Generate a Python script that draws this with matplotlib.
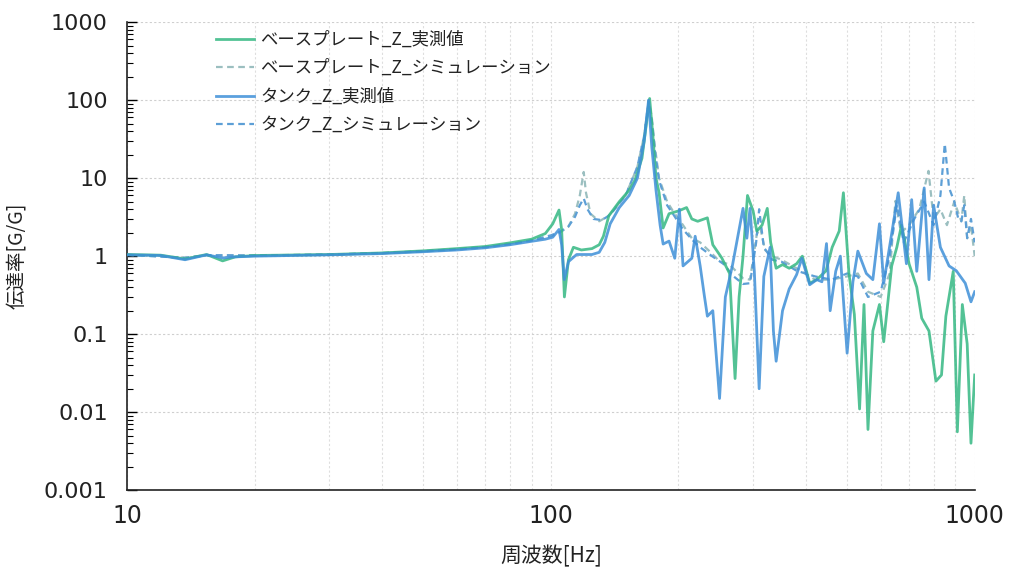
import matplotlib
matplotlib.use("Agg")
import matplotlib.pyplot as plt
from matplotlib.ticker import NullFormatter, LogLocator

plt.rcParams['font.family'] = ['Noto Sans CJK JP', 'DejaVu Sans']

# ---------------- data ----------------
bp_meas_f = [10, 12, 13.7, 15.4, 16.8, 18, 20, 30, 40, 50, 60, 70, 80, 90, 97, 101, 104.5, 106, 107.6,
             110, 113, 118, 125, 130, 133, 137, 145, 153, 158, 164, 168, 171, 174, 177, 180, 184, 190,
             200, 209, 215, 222, 234, 241, 253, 264, 272, 278, 284, 291, 300, 306, 315, 324, 330, 340,
             352, 365, 380, 392, 408, 424, 446, 461, 479, 490, 505, 520, 535, 548, 560, 575, 596, 610,
             637, 655, 672, 700, 730, 750, 780, 810, 835, 855, 890, 910, 935, 960, 980, 1000]
bp_meas_v = [1.05, 1.03, 0.92, 1.05, 0.87, 0.98, 1.02, 1.05, 1.1, 1.17, 1.25, 1.33, 1.48, 1.65, 1.95, 2.6,
             3.9, 2.2, 0.3, 0.9, 1.3, 1.2, 1.25, 1.4, 1.8, 3.3, 5.0, 7.0, 9.5, 18, 50, 105, 35, 10, 6.5,
             2.3, 3.5, 3.8, 4.2, 3.0, 2.8, 3.1, 1.4, 0.95, 0.6, 0.027, 0.3, 1.0, 6.0, 3.8, 2.1, 2.5, 4.1,
             1.5, 0.7, 0.78, 0.7, 0.8, 1.0, 0.45, 0.5, 0.65, 1.3, 2.1, 6.5, 0.6, 0.18, 0.011, 0.24, 0.006,
             0.11, 0.24, 0.08, 0.75, 1.3, 2.5, 0.8, 0.4, 0.16, 0.11, 0.025, 0.03, 0.17, 0.64, 0.0056,
             0.24, 0.075, 0.004, 0.03]

bp_sim_f = [10, 13.7, 15.4, 20, 30, 40, 50, 60, 70, 80, 90, 100, 105, 110, 114, 117, 119.5, 121, 124,
            130, 137, 142, 150, 160, 166, 170, 173, 176, 180, 188, 194, 205, 215, 225, 237, 250, 264,
            284, 295, 306, 312, 320, 333, 350, 380, 420, 460, 500, 530, 560, 600, 630, 650, 670, 700,
            740, 778, 800, 830, 860, 895, 930, 945, 960, 980, 1000]
bp_sim_v = [1.04, 0.96, 1.03, 1.02, 1.05, 1.09, 1.15, 1.22, 1.3, 1.42, 1.58, 1.8, 2.0, 2.4, 3.5, 6, 12,
            6.5, 3.5, 2.8, 3.3, 4.2, 6, 14, 35, 100, 60, 25, 10, 5.0, 3.8, 2.5, 1.7, 1.5, 1.15, 0.86,
            0.78, 0.52, 0.5, 1.9, 2.3, 1.2, 1.0, 0.9, 0.7, 0.5, 0.5, 0.55, 0.6, 0.35, 0.3, 0.6, 5.1,
            2.0, 2.5, 4, 12.4, 3, 4, 2.5, 5, 2.8, 6, 1.7, 2.5, 1.0]

tk_meas_f = [10, 12, 13.7, 15.4, 16.8, 18, 20, 30, 40, 50, 60, 70, 80, 90, 97, 101, 104.5, 106, 107.5,
             110, 115, 125, 130, 134, 138, 145, 153, 160, 166, 170, 173, 177, 181, 184, 190, 196, 201,
             205, 215, 219, 225, 230, 234, 241, 250, 258, 268, 284, 290, 295, 302, 310, 318, 329, 335,
             340, 352, 365, 380, 391, 408, 424, 436, 447, 456, 470, 482, 500, 516, 530, 555, 575, 596,
             610, 660, 690, 710, 730, 760, 780, 800, 830, 870, 905, 950, 980, 1000]
tk_meas_v = [1.04, 1.02, 0.9, 1.04, 0.95, 0.98, 1.0, 1.04, 1.08, 1.14, 1.2, 1.28, 1.4, 1.55, 1.65, 1.75,
             2.2, 1.4, 0.5, 0.85, 1.05, 1.05, 1.12, 1.5, 2.6, 4.2, 6.0, 10, 30, 100, 25, 7, 2.5, 1.43,
             1.56, 0.94, 4.0, 0.75, 0.94, 1.8, 0.75, 0.32, 0.17, 0.2, 0.015, 0.3, 0.75, 4.1, 1.7, 4.1,
             0.64, 0.02, 0.55, 1.3, 0.11, 0.045, 0.2, 0.38, 0.58, 0.94, 0.43, 0.5, 0.47, 1.45, 0.2,
             0.64, 1.0, 0.057, 0.47, 1.16, 0.6, 0.5, 2.6, 0.45, 6.5, 0.8, 5.3, 0.64, 7.5, 0.5, 4.5, 1.3,
             0.75, 0.65, 0.45, 0.26, 0.35]

tk_sim_f = [10, 13.7, 15.4, 20, 30, 40, 50, 60, 70, 80, 90, 100, 105, 110, 114, 117, 119.5, 122, 126,
            132, 138, 143, 150, 160, 166, 170, 173, 176, 180, 188, 194, 205, 216, 225, 240, 255, 270,
            284, 295, 305, 310, 318, 333, 350, 380, 420, 460, 500, 530, 560, 600, 630, 655, 680, 720,
            760, 800, 830, 850, 870, 895, 915, 930, 945, 960, 980, 1000]
tk_sim_v = [1.04, 0.95, 1.03, 1.02, 1.05, 1.1, 1.16, 1.23, 1.31, 1.43, 1.6, 1.85, 2.05, 2.4, 3.2, 4.5,
            5.5, 4.0, 3.0, 2.9, 3.4, 4.3, 6, 14, 35, 95, 55, 22, 9.4, 4.5, 3.5, 2.2, 1.6, 1.3, 1.0, 0.8,
            0.55, 0.44, 0.45, 1.5, 4.0, 1.3, 0.9, 0.85, 0.65, 0.55, 0.5, 0.6, 0.55, 0.3, 0.35, 1.0, 4.5,
            1.5, 3, 5, 2.5, 6, 27.6, 7.5, 5, 3, 2.8, 4.5, 1.7, 3, 1.5]

labels = ["ベースプレート_Z_実測値", "ベースプレート_Z_シミュレーション",
          "タンク_Z_実測値", "タンク_Z_シミュレーション"]

y_ticks = [0.001, 0.01, 0.1, 1, 10, 100, 1000]
y_tick_labels = ["0.001", "0.01", "0.1", "1", "10", "100", "1000"]
x_ticks = [10, 100, 1000]
x_tick_labels = ["10", "100", "1000"]

# ---------------- plot ----------------
fig = plt.figure(figsize=(10.09, 5.68), dpi=100)
ax = fig.add_axes([0.126, 0.137, 0.840, 0.824])

c_bp = "#35b883"
c_tk = "#3e8fd8"
c_bps = "#9bbfc0"
c_tks = "#5d9fd6"

l1, = ax.plot(bp_meas_f, bp_meas_v, color=c_bp, lw=2.0, alpha=0.85, zorder=3)
l2, = ax.plot(bp_sim_f, bp_sim_v, color=c_bps, lw=1.6, ls=(0, (3, 2)), zorder=2)
l3, = ax.plot(tk_meas_f, tk_meas_v, color=c_tk, lw=2.0, alpha=0.85, zorder=3)
l4, = ax.plot(tk_sim_f, tk_sim_v, color=c_tks, lw=1.6, ls=(0, (3, 2)), zorder=2)

ax.set_xscale('log')
ax.set_yscale('log')
ax.set_xlim(10, 1000)
ax.set_ylim(0.001, 1000)

ax.set_yticks(y_ticks)
ax.set_yticklabels(y_tick_labels)
ax.set_xticks(x_ticks)
ax.set_xticklabels(x_tick_labels)
ax.yaxis.set_minor_locator(LogLocator(base=10, subs=range(2, 10), numticks=20))
ax.yaxis.set_minor_formatter(NullFormatter())
ax.xaxis.set_minor_locator(LogLocator(base=10, subs=range(2, 10), numticks=20))
ax.xaxis.set_minor_formatter(NullFormatter())

ax.tick_params(axis='y', which='major', direction='in', length=7, width=1.0, labelsize=16, pad=14)
ax.tick_params(axis='y', which='minor', direction='in', length=4, width=0.8)
ax.tick_params(axis='x', which='both', length=0, labelsize=17, pad=10)
for lab in ax.get_xticklabels() + ax.get_yticklabels():
    lab.set_family(['DejaVu Sans'])
    lab.set_color('#222222')

ax.grid(True, which='major', axis='y', color='#cfcfcf', ls=(0, (2, 2)), lw=0.8)
ax.grid(True, which='both', axis='x', color='#dedede', ls=(0, (2, 2)), lw=0.8)

for s in ['top', 'right']:
    ax.spines[s].set_visible(False)
for s in ['left', 'bottom']:
    ax.spines[s].set_color('#222222')
    ax.spines[s].set_linewidth(1.2)

ax.set_ylabel("伝達率[G/G]", fontsize=14, color='#222222', labelpad=12)
ax.set_xlabel("周波数[Hz]", fontsize=15, color='#222222', labelpad=12)

leg = ax.legend([l1, l2, l3, l4], labels, loc='upper left', bbox_to_anchor=(0.086, 1.015),
                frameon=False, fontsize=12.5, handlelength=2.2, handletextpad=0.35,
                labelspacing=0.6)
for t in leg.get_texts():
    t.set_color('#222222')

fig.savefig("out.png", dpi=100)
